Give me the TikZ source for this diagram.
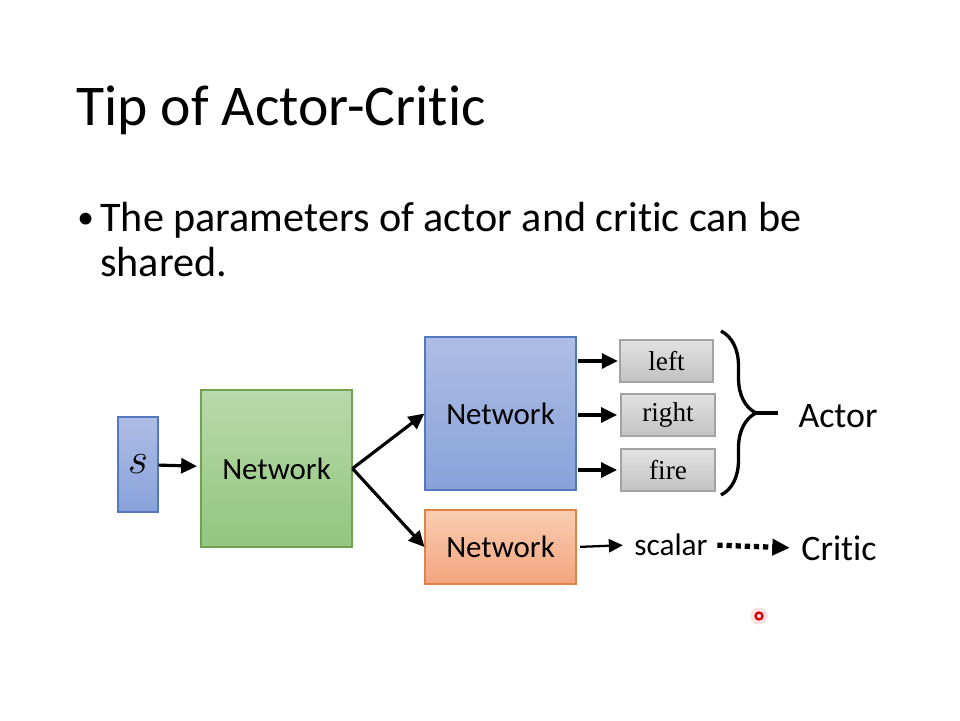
\documentclass[tikz,border=0pt]{standalone}
\usepackage{fontspec}
\setmainfont{Carlito}[Ligatures=NoCommon]
\newfontfamily\timesfont{Liberation Serif}
\usetikzlibrary{arrows.meta,decorations.pathreplacing}

\newcommand{\noti}{\kern0pt} % breaks the t-i ligature of Carlito

\definecolor{bluetop}{HTML}{AEBDE5}
\definecolor{bluebot}{HTML}{88A2DA}
\definecolor{blueedge}{HTML}{5478BE}
\definecolor{greentop}{HTML}{B8D9AB}
\definecolor{greenbot}{HTML}{93C67E}
\definecolor{greenedge}{HTML}{6FA352}
\definecolor{orangetop}{HTML}{F9CDB1}
\definecolor{orangebot}{HTML}{F3A47E}
\definecolor{orangeedge}{HTML}{E0824A}
\definecolor{graytop}{HTML}{E2E2E2}
\definecolor{graybot}{HTML}{C2C2C2}
\definecolor{grayedge}{HTML}{A3A3A3}

\tikzset{
  box/.style={draw, line width=0.6pt, inner sep=0pt},
  bluebox/.style={box, draw=blueedge, top color=bluetop, bottom color=bluebot},
  greenbox/.style={box, draw=greenedge, top color=greentop, bottom color=greenbot},
  orangebox/.style={box, draw=orangeedge, top color=orangetop, bottom color=orangebot},
  netbox/.style={minimum width=3.02cm, font=\fontsize{17.6}{18}\selectfont},
  outbox/.style={box, draw=grayedge, top color=graytop, bottom color=graybot,
    minimum width=1.88cm, minimum height=0.84cm, font=\timesfont\fontsize{15.5}{16}\selectfont},
  arr/.style={-{Triangle[length=9pt,width=8.5pt]}, line width=1.8pt},
  thinarr/.style={-{Triangle[length=8pt,width=7.5pt]}, line width=1.3pt},
  dotarr/.style={-{Triangle[length=10pt,width=9pt]}, line width=3pt, dash pattern=on 3pt off 2.2pt},
}

\begin{document}
\begin{tikzpicture}[x=0.02cm,y=-0.02cm]
\useasboundingbox[fill=white] (0,0) rectangle (960,720);

% titulo e texto
\node[anchor=base west, inner sep=0pt, font=\fontsize{32.8}{39}\selectfont] (title) at (76,125) {Tip of Actor-Crit\noti ic};
\node[anchor=base west, inner sep=0pt, font=\fontsize{19}{29}\selectfont] (bullet) at (77,228) {•};
\node[anchor=base west, inner sep=0pt, font=\fontsize{24}{29}\selectfont] (line1) at (100,231) {The parameters of actor and crit\noti ic can be};
\node[anchor=base west, inner sep=0pt, font=\fontsize{24}{29}\selectfont] (line2) at (100,276) {shared.};

% caixas
\node[bluebox, minimum width=0.8cm, minimum height=1.9cm, font=\fontsize{24}{24}\selectfont] (s) at (138,464.5) {$s$};
\node[greenbox, netbox, minimum height=3.14cm] (shared) at (276.5,468.5) {Network}; % comum
\node[bluebox, netbox, minimum height=3.06cm] (actornet) at (500.5,413.5) {Network}; % ator
\node[orangebox, netbox, minimum height=1.48cm] (criticnet) at (500.5,547) {Network}; % critico

\node[outbox, minimum width=1.86cm] (left) at (666.5,361) {left};
\node[outbox] (right) at (668,415) {right};
\node[outbox] (fire) at (668,470) {fire};

\node[font=\fontsize{17.8}{18}\selectfont] (scalar) at (671,545) {scalar};
\node[font=\fontsize{20.4}{21}\selectfont] (actor) at (838,416) {Actor};
\node[font=\fontsize{20.4}{21}\selectfont] (critic) at (839,548) {Crit\noti ic};

% setas
\draw[arr, shorten >=2pt] (s) -- (shared);
\draw[arr] (shared.east) -- (actornet.west);
\draw[arr] (shared.east) -- (criticnet.west);
\draw[arr, shorten <=1pt, shorten >=1pt] (actornet.east |- left) -- (left.west);
\draw[arr, shorten <=1pt, shorten >=2pt] (actornet.east |- right) -- (right.west);
\draw[arr, shorten <=1pt, shorten >=2pt] (actornet.east |- fire) -- (fire.west);
\draw[thinarr, shorten <=2pt, shorten >=3pt] (criticnet.east) -- (scalar.west);
\draw[dotarr, shorten <=2pt, shorten >=3pt] (scalar.east) -- (critic.west);

% chave
\coordinate (bracetop) at (721,331);
\coordinate (bracebot) at (721,495);
\coordinate (bracetip) at (756,413);
\coordinate (braceend) at (778,413);
\draw[decorate, decoration={brace, amplitude=0.7cm}, line width=1.9pt] (bracetop) -- (bracebot);
\draw[line width=1.9pt] (bracetip) -- (braceend);

% ponteiro laser
\fill[red!12] (759,616) circle (0.17cm);
\draw[red!85!black, line width=1.3pt] (759,616) circle (0.07cm);

\end{tikzpicture}
\end{document}
